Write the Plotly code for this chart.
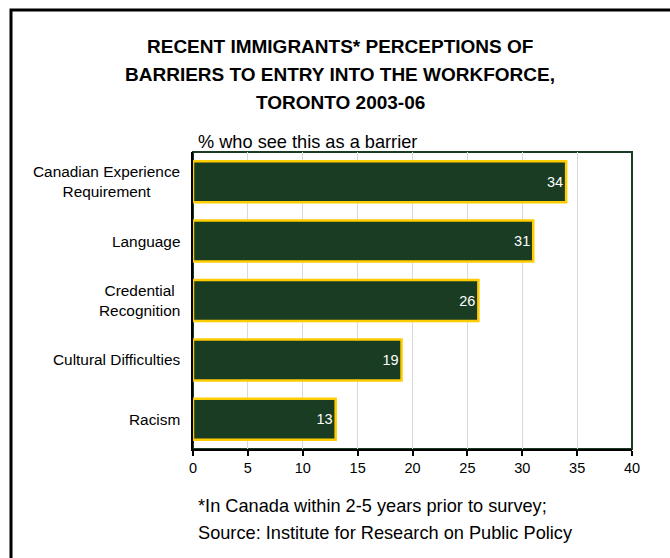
import plotly.graph_objects as go

categories = ["Canadian Experience<br>Requirement", "Language", "Credential<br>Recognition",
              "Cultural Difficulties", "Racism"]
values = [34, 31, 26, 19, 13]
x_ticks = [0, 5, 10, 15, 20, 25, 30, 35, 40]
title_lines = ["RECENT IMMIGRANTS* PERCEPTIONS OF",
               "BARRIERS TO ENTRY INTO THE WORKFORCE,",
               "TORONTO 2003-06"]
subtitle = "% who see this as a barrier"
footnote_lines = ["*In Canada within 2-5 years prior to survey;",
                  "Source: Institute for Research on Public Policy"]

W, H = 670, 558
L, R, T, B = 193, 38, 152, 109
pw, ph = W - L - R, H - T - B
FONT = "Liberation Sans, Arial"

def px_x(p):
    return (p - L) / pw

def px_y(p):
    return (H - B - p) / ph

fig = go.Figure()
fig.add_trace(go.Bar(
    y=categories, x=values, orientation="h",
    marker=dict(color="#1a3c22", line=dict(color="#ffcc00", width=2.5)),
    text=[str(v) for v in values], textposition="inside", insidetextanchor="end",
    textfont=dict(color="white", size=14.5, family=FONT),
    cliponaxis=False, hoverinfo="skip",
))

annotations = []
for c in categories:
    annotations.append(dict(x=px_x(182), y=c, xref="paper", yref="y", text=c,
                            showarrow=False, xanchor="right", align="center",
                            font=dict(size=15.4, family=FONT, color="black")))
for i, line in enumerate(title_lines):
    annotations.append(dict(x=px_x(340), y=px_y(47 + i * 27.5), xref="paper", yref="paper",
                            text="<b>" + line + "</b>", showarrow=False,
                            xanchor="center", yanchor="middle",
                            font=dict(size=19, family=FONT, color="black")))
annotations.append(dict(x=px_x(196), y=px_y(142), xref="paper", yref="paper",
                        text=subtitle, showarrow=False,
                        xanchor="left", yanchor="middle", align="left",
                        font=dict(size=18.2, family=FONT, color="black")))
for i, line in enumerate(footnote_lines):
    annotations.append(dict(x=px_x(196), y=px_y(506 + i * 27), xref="paper", yref="paper",
                            text=line, showarrow=False,
                            xanchor="left", yanchor="middle", align="left",
                            font=dict(size=18.2, family=FONT, color="black")))

shapes = [
    dict(type="rect", xref="paper", yref="paper", x0=0, x1=1, y0=0, y1=1,
         line=dict(color="#1a3c22", width=2), layer="below"),
    dict(type="rect", xref="paper", yref="paper", x0=px_x(11), x1=px_x(700),
         y0=px_y(600), y1=px_y(10), line=dict(color="black", width=3)),
]

fig.update_layout(
    width=W, height=H, margin=dict(l=L, r=R, t=T, b=B),
    paper_bgcolor="white", plot_bgcolor="white",
    showlegend=False, bargap=0.31,
    annotations=annotations, shapes=shapes,
    font=dict(family=FONT, size=14, color="black"),
    xaxis=dict(range=[0, 40], tickvals=x_ticks, ticktext=[str(t) for t in x_ticks],
               showgrid=True, gridcolor="#d9d9d9", gridwidth=1,
               showline=True, linecolor="black", linewidth=2,
               ticks="outside", ticklen=5, tickwidth=2, tickcolor="black",
               zeroline=False, tickfont=dict(size=14.5, family=FONT), fixedrange=True),
    yaxis=dict(autorange="reversed", showticklabels=False, showline=True,
               linecolor="black", linewidth=2, ticks="", showgrid=False, fixedrange=True),
)

fig.write_html("out.html", config={"displayModeBar": False},
               post_script="document.body.style.margin='0';document.body.style.overflow='hidden';")
